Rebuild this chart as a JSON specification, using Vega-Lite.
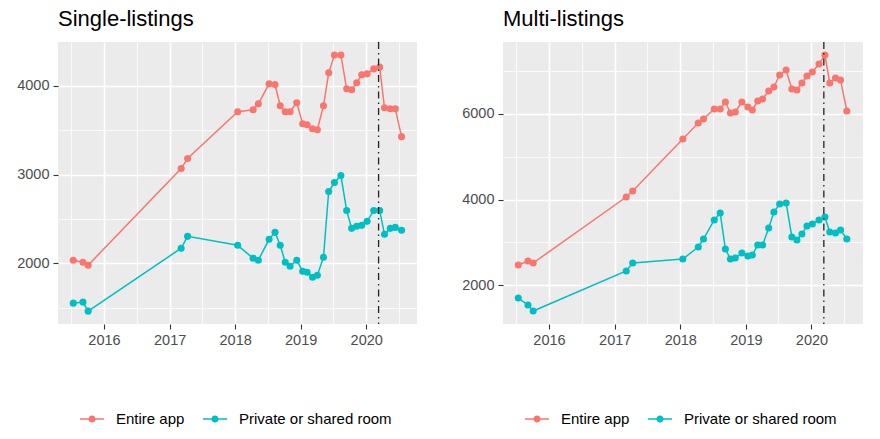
{
  "$schema": "https://vega.github.io/schema/vega-lite/v6.json",
  "padding": {"left": 16, "top": 8, "right": 5, "bottom": 5},
  "background": "white",
  "spacing": 44,
  "datasets": {
    "single": [
      {"date": "2015-07-14", "Entire app": 2034, "Private or shared room": 1550},
      {"date": "2015-09-06", "Entire app": 2011, "Private or shared room": 1562},
      {"date": "2015-10-05", "Entire app": 1978, "Private or shared room": 1460},
      {"date": "2017-03-06", "Entire app": 3067, "Private or shared room": 2169},
      {"date": "2017-04-11", "Entire app": 3180, "Private or shared room": 2303},
      {"date": "2018-01-15", "Entire app": 3708, "Private or shared room": 2202},
      {"date": "2018-04-11", "Entire app": 3730, "Private or shared room": 2056},
      {"date": "2018-05-10", "Entire app": 3798, "Private or shared room": 2034},
      {"date": "2018-07-09", "Entire app": 4022, "Private or shared room": 2270},
      {"date": "2018-08-11", "Entire app": 4015, "Private or shared room": 2348},
      {"date": "2018-09-09", "Entire app": 3775, "Private or shared room": 2202},
      {"date": "2018-10-07", "Entire app": 3708, "Private or shared room": 2011},
      {"date": "2018-11-03", "Entire app": 3708, "Private or shared room": 1966},
      {"date": "2018-12-10", "Entire app": 3809, "Private or shared room": 2034},
      {"date": "2019-01-12", "Entire app": 3573, "Private or shared room": 1910},
      {"date": "2019-02-06", "Entire app": 3562, "Private or shared room": 1899},
      {"date": "2019-03-08", "Entire app": 3517, "Private or shared room": 1843},
      {"date": "2019-04-04", "Entire app": 3505, "Private or shared room": 1865},
      {"date": "2019-05-08", "Entire app": 3775, "Private or shared room": 2067},
      {"date": "2019-06-06", "Entire app": 4146, "Private or shared room": 2809},
      {"date": "2019-07-08", "Entire app": 4348, "Private or shared room": 2910},
      {"date": "2019-08-13", "Entire app": 4348, "Private or shared room": 2989},
      {"date": "2019-09-14", "Entire app": 3966, "Private or shared room": 2595},
      {"date": "2019-10-12", "Entire app": 3955, "Private or shared room": 2393},
      {"date": "2019-11-09", "Entire app": 4034, "Private or shared room": 2416},
      {"date": "2019-12-07", "Entire app": 4124, "Private or shared room": 2427},
      {"date": "2020-01-06", "Entire app": 4135, "Private or shared room": 2472},
      {"date": "2020-02-12", "Entire app": 4191, "Private or shared room": 2595},
      {"date": "2020-03-16", "Entire app": 4213, "Private or shared room": 2595},
      {"date": "2020-04-12", "Entire app": 3753, "Private or shared room": 2326},
      {"date": "2020-05-14", "Entire app": 3742, "Private or shared room": 2393},
      {"date": "2020-06-11", "Entire app": 3742, "Private or shared room": 2404},
      {"date": "2020-07-16", "Entire app": 3427, "Private or shared room": 2371}
    ],
    "multi": [
      {"date": "2015-07-14", "Entire app": 2468, "Private or shared room": 1696},
      {"date": "2015-09-06", "Entire app": 2562, "Private or shared room": 1532},
      {"date": "2015-10-05", "Entire app": 2515, "Private or shared room": 1392},
      {"date": "2017-03-06", "Entire app": 4058, "Private or shared room": 2328},
      {"date": "2017-04-11", "Entire app": 4198, "Private or shared room": 2515},
      {"date": "2018-01-15", "Entire app": 5415, "Private or shared room": 2608},
      {"date": "2018-04-11", "Entire app": 5790, "Private or shared room": 2889},
      {"date": "2018-05-10", "Entire app": 5883, "Private or shared room": 3076},
      {"date": "2018-07-09", "Entire app": 6117, "Private or shared room": 3521},
      {"date": "2018-08-11", "Entire app": 6117, "Private or shared room": 3685},
      {"date": "2018-09-09", "Entire app": 6281, "Private or shared room": 2842},
      {"date": "2018-10-07", "Entire app": 6023, "Private or shared room": 2608},
      {"date": "2018-11-03", "Entire app": 6047, "Private or shared room": 2630},
      {"date": "2018-12-10", "Entire app": 6281, "Private or shared room": 2749},
      {"date": "2019-01-12", "Entire app": 6164, "Private or shared room": 2678},
      {"date": "2019-02-06", "Entire app": 6094, "Private or shared room": 2702},
      {"date": "2019-03-08", "Entire app": 6304, "Private or shared room": 2936},
      {"date": "2019-04-04", "Entire app": 6351, "Private or shared room": 2936},
      {"date": "2019-05-08", "Entire app": 6538, "Private or shared room": 3334},
      {"date": "2019-06-06", "Entire app": 6632, "Private or shared room": 3708},
      {"date": "2019-07-08", "Entire app": 6913, "Private or shared room": 3895},
      {"date": "2019-08-13", "Entire app": 7030, "Private or shared room": 3919},
      {"date": "2019-09-14", "Entire app": 6585, "Private or shared room": 3123},
      {"date": "2019-10-12", "Entire app": 6562, "Private or shared room": 3053},
      {"date": "2019-11-09", "Entire app": 6725, "Private or shared room": 3193},
      {"date": "2019-12-07", "Entire app": 6889, "Private or shared room": 3381},
      {"date": "2020-01-06", "Entire app": 6983, "Private or shared room": 3427},
      {"date": "2020-02-12", "Entire app": 7170, "Private or shared room": 3521},
      {"date": "2020-03-16", "Entire app": 7381, "Private or shared room": 3591},
      {"date": "2020-04-12", "Entire app": 6725, "Private or shared room": 3240},
      {"date": "2020-05-14", "Entire app": 6842, "Private or shared room": 3217},
      {"date": "2020-06-11", "Entire app": 6796, "Private or shared room": 3287},
      {"date": "2020-07-16", "Entire app": 6070, "Private or shared room": 3076}
    ],
    "events": [{"date": "2020-03-10"}]
  },
  "resolve": {
    "scale": {"x": "independent", "y": "independent", "color": "independent"},
    "legend": {"color": "independent"}
  },
  "hconcat": [
    {
      "title": {"text": "Single-listings", "anchor": "start", "frame": "group", "fontSize": 22, "fontWeight": "normal", "font": "Liberation Sans", "color": "black", "offset": -12, "baseline": "bottom"},
      "width": 359,
      "height": 282,
      "layer": [
        {
          "data": {"name": "single"},
          "transform": [{"fold": ["Entire app", "Private or shared room"], "as": ["type", "n"]}],
          "mark": {"type": "line", "strokeWidth": 1.5},
          "encoding": {
            "x": {"field": "date", "type": "temporal", "title": null,
              "scale": {"domain": ["2015-04-20", "2020-10-10"]},
              "axis": {"orient": "bottom", "title": null, "labelOverlap": false, "labelFlush": false,
                "tickCount": {"interval": "month", "step": 6},
                "labelExpr": "month(datum.value) == 0 ? timeFormat(datum.value, '%Y') : ''",
                "gridWidth": {"condition": {"test": "month(datum.value) == 0", "value": 1.6}, "value": 0.8},
                "tickOpacity": {"condition": {"test": "month(datum.value) == 0", "value": 1}, "value": 0}}},
            "y": {"field": "n", "type": "quantitative", "title": null,
              "scale": {"domain": [1315, 4494], "nice": false, "zero": false},
              "axis": {"orient": "left", "title": null, "values": [1500, 2000, 2500, 3000, 3500, 4000], "format": "d",
                "labelExpr": "datum.value % 1000 == 0 ? datum.label : ''",
                "gridWidth": {"condition": {"test": "datum.value % 1000 == 0", "value": 1.6}, "value": 0.8},
                "tickOpacity": {"condition": {"test": "datum.value % 1000 == 0", "value": 1}, "value": 0}}},
            "color": {"field": "type", "type": "nominal",
              "scale": {"domain": ["Entire app", "Private or shared room"], "range": ["#F8766D", "#00BFC4"]},
              "legend": {"orient": "bottom", "offset": 38, "direction": "horizontal", "title": null,
                "symbolType": "M-1,-0.06H1V0.06H-1Z M0.3,0 A0.3,0.3 0 1,1 -0.3,0 A0.3,0.3 0 1,1 0.3,0Z",
                "symbolSize": 576, "symbolStrokeWidth": 0, "labelFontSize": 15, "labelFont": "Liberation Sans", "labelColor": "black", "labelOffset": 12, "columnPadding": 18, "padding": 22}}
          }
        },
        {
          "data": {"name": "single"},
          "transform": [{"fold": ["Entire app", "Private or shared room"], "as": ["type", "n"]}],
          "mark": {"type": "point", "filled": true, "size": 50, "opacity": 1},
          "encoding": {
            "x": {"field": "date", "type": "temporal", "title": null},
            "y": {"field": "n", "type": "quantitative", "title": null},
            "color": {"field": "type", "type": "nominal",
              "scale": {"domain": ["Entire app", "Private or shared room"], "range": ["#F8766D", "#00BFC4"]},
              "legend": {"orient": "bottom", "offset": 38, "direction": "horizontal", "title": null,
                "symbolType": "M-1,-0.06H1V0.06H-1Z M0.3,0 A0.3,0.3 0 1,1 -0.3,0 A0.3,0.3 0 1,1 0.3,0Z",
                "symbolSize": 576, "symbolStrokeWidth": 0, "labelFontSize": 15, "labelFont": "Liberation Sans", "labelColor": "black", "labelOffset": 12, "columnPadding": 18, "padding": 22}}
          }
        },
        {
          "data": {"name": "events"},
          "mark": {"type": "rule", "color": "#222222", "strokeWidth": 1.3, "strokeDash": [7, 4, 1.5, 4]},
          "encoding": {"x": {"field": "date", "type": "temporal", "title": null}}
        }
      ]
    },
    {
      "title": {"text": "Multi-listings", "anchor": "start", "frame": "group", "fontSize": 22, "fontWeight": "normal", "font": "Liberation Sans", "color": "black", "offset": -12, "baseline": "bottom"},
      "width": 360,
      "height": 282,
      "layer": [
        {
          "data": {"name": "multi"},
          "transform": [{"fold": ["Entire app", "Private or shared room"], "as": ["type", "n"]}],
          "mark": {"type": "line", "strokeWidth": 1.5},
          "encoding": {
            "x": {"field": "date", "type": "temporal", "title": null,
              "scale": {"domain": ["2015-04-20", "2020-10-14"]},
              "axis": {"orient": "bottom", "title": null, "labelOverlap": false, "labelFlush": false,
                "tickCount": {"interval": "month", "step": 6},
                "labelExpr": "month(datum.value) == 0 ? timeFormat(datum.value, '%Y') : ''",
                "gridWidth": {"condition": {"test": "month(datum.value) == 0", "value": 1.6}, "value": 0.8},
                "tickOpacity": {"condition": {"test": "month(datum.value) == 0", "value": 1}, "value": 0}}},
            "y": {"field": "n", "type": "quantitative", "title": null,
              "scale": {"domain": [1088, 7684], "nice": false, "zero": false},
              "axis": {"orient": "left", "title": null, "values": [2000, 3000, 4000, 5000, 6000, 7000], "format": "d",
                "labelExpr": "datum.value % 2000 == 0 ? datum.label : ''",
                "gridWidth": {"condition": {"test": "datum.value % 2000 == 0", "value": 1.6}, "value": 0.8},
                "tickOpacity": {"condition": {"test": "datum.value % 2000 == 0", "value": 1}, "value": 0}}},
            "color": {"field": "type", "type": "nominal",
              "scale": {"domain": ["Entire app", "Private or shared room"], "range": ["#F8766D", "#00BFC4"]},
              "legend": {"orient": "bottom", "offset": 38, "direction": "horizontal", "title": null,
                "symbolType": "M-1,-0.06H1V0.06H-1Z M0.3,0 A0.3,0.3 0 1,1 -0.3,0 A0.3,0.3 0 1,1 0.3,0Z",
                "symbolSize": 576, "symbolStrokeWidth": 0, "labelFontSize": 15, "labelFont": "Liberation Sans", "labelColor": "black", "labelOffset": 12, "columnPadding": 18, "padding": 22}}
          }
        },
        {
          "data": {"name": "multi"},
          "transform": [{"fold": ["Entire app", "Private or shared room"], "as": ["type", "n"]}],
          "mark": {"type": "point", "filled": true, "size": 50, "opacity": 1},
          "encoding": {
            "x": {"field": "date", "type": "temporal", "title": null},
            "y": {"field": "n", "type": "quantitative", "title": null},
            "color": {"field": "type", "type": "nominal",
              "scale": {"domain": ["Entire app", "Private or shared room"], "range": ["#F8766D", "#00BFC4"]},
              "legend": {"orient": "bottom", "offset": 38, "direction": "horizontal", "title": null,
                "symbolType": "M-1,-0.06H1V0.06H-1Z M0.3,0 A0.3,0.3 0 1,1 -0.3,0 A0.3,0.3 0 1,1 0.3,0Z",
                "symbolSize": 576, "symbolStrokeWidth": 0, "labelFontSize": 15, "labelFont": "Liberation Sans", "labelColor": "black", "labelOffset": 12, "columnPadding": 18, "padding": 22}}
          }
        },
        {
          "data": {"name": "events"},
          "mark": {"type": "rule", "color": "#222222", "strokeWidth": 1.3, "strokeDash": [7, 4, 1.5, 4]},
          "encoding": {"x": {"field": "date", "type": "temporal", "title": null}}
        }
      ]
    }
  ],
  "config": {
    "view": {"fill": "#EBEBEB", "stroke": null},
    "axis": {"domain": false, "tickColor": "#333333", "tickSize": 5, "tickWidth": 1.1, "labelPadding": 4, "labelFont": "Liberation Sans", "labelFontSize": 14.5, "labelColor": "#4D4D4D", "gridColor": "#FFFFFF"}
  }
}
